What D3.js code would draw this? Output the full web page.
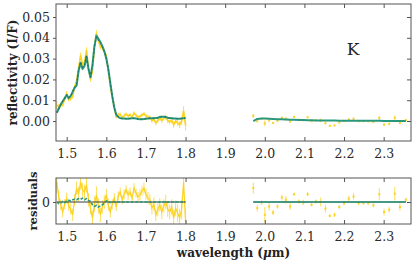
<!DOCTYPE html>
<html>
<head>
<meta charset="utf-8">
<script src="https://cdn.jsdelivr.net/npm/d3@7"></script>
<style>
body { margin: 0; background: #fff; }
svg { display: block; }
</style>
</head>
<body>
<div id="chart"></div>
<script>
// values in units of 1e-3 reflectivity (I/F)

// H band segment
var waveH = [1.475, 1.480, 1.485, 1.490, 1.495, 1.500, 1.505, 1.510, 1.515, 1.520,
    1.525, 1.530, 1.535, 1.540, 1.545, 1.550, 1.555, 1.560, 1.565, 1.570,
    1.575, 1.580, 1.585, 1.590, 1.595, 1.600, 1.605, 1.610, 1.615, 1.620,
    1.625, 1.630, 1.635, 1.640, 1.645, 1.650, 1.655, 1.660, 1.665, 1.670,
    1.675, 1.680, 1.685, 1.690, 1.695, 1.700, 1.705, 1.710, 1.715, 1.720,
    1.725, 1.730, 1.735, 1.740, 1.745, 1.750, 1.755, 1.760, 1.765, 1.770,
    1.775, 1.780, 1.785, 1.790, 1.795, 1.800];
var modelH = [4.0, 6.0, 8.0, 9.5, 11.0, 12.5, 11.0, 12.0, 14.0, 16.0,
    17.0, 24.0, 28.0, 25.0, 26.5, 31.0, 25.0, 21.0, 27.0, 36.0,
    41.0, 39.5, 38.0, 36.0, 33.5, 30.0, 25.0, 18.5, 12.0, 6.5,
    3.0, 2.0, 1.4, 1.2, 1.2, 1.1, 1.1, 1.2, 1.3, 1.3,
    1.2, 1.0, 0.9, 0.9, 1.0, 1.1, 1.2, 1.3, 1.3, 1.3,
    1.4, 1.6, 1.9, 2.1, 2.1, 1.9, 1.6, 1.4, 1.3, 1.2,
    1.2, 1.1, 1.1, 1.2, 1.3, 1.4];
var residH = [3.6, 0.9, -0.5, -1.8, -0.4, 0.7, -0.7, -1.3, -2.3, 0.4,
    2.5, 1.4, 3.6, 2.2, 1.8, 3.1, 0.4, -1.1, -2.9, -0.4,
    1.3, -0.7, -2.3, -0.9, 0.0, 1.3, -0.5, -1.8, -0.4, 0.7,
    -0.9, 1.1, 1.8, 0.4, 1.4, 2.2, 1.3, 1.8, 0.7, 2.5,
    1.6, 0.9, 1.3, 2.0, 2.5, 1.4, 0.7, 0.4, -1.1, -0.4,
    -2.3, -1.4, -0.5, -1.8, -0.7, 0.0, -1.3, -1.8, -0.9, -2.9,
    -1.1, -2.0, -2.9, -1.4, 3.6, -3.6];
var errH = [2.0, 1.2, 1.0, 1.0, 0.9, 1.0, 0.9, 1.0, 1.1, 1.0,
    1.2, 1.3, 1.4, 1.2, 1.3, 1.4, 1.2, 1.1, 1.3, 1.4,
    1.5, 1.4, 1.3, 1.2, 1.2, 1.1, 1.1, 1.0, 0.9, 0.9,
    0.8, 0.8, 0.8, 0.8, 0.9, 0.8, 0.9, 0.8, 0.9, 0.9,
    0.8, 0.9, 1.0, 0.9, 1.0, 1.0, 1.1, 1.0, 1.1, 1.2,
    1.1, 1.2, 1.2, 1.3, 1.2, 1.3, 1.4, 1.3, 1.4, 1.5,
    1.4, 1.6, 1.7, 1.8, 2.2, 2.4];
// second model, as residual against the first
var altResidH = [0.0, -0.3, -0.2, 0.1, -0.1, 0.2, 0.3, 0.2, 0.4, 0.5,
    0.4, 0.6, 0.5, 0.7, 0.4, 0.6, 0.3, 0.1, -0.5, -0.8,
    -0.6, -0.9, -0.7, -0.5, -0.2, 0.2, 0.1, -0.1, 0.1, 0.0,
    0.0, 0.0, 0.0, 0.0, 0.0, 0.0, 0.0, 0.0, 0.0, 0.0,
    0.0, 0.0, 0.0, 0.0, 0.0, 0.0, 0.0, 0.0, 0.0, 0.0,
    0.0, 0.0, 0.0, 0.0, 0.0, 0.0, 0.0, 0.0, 0.0, 0.0,
    0.0, 0.0, 0.0, 0.0, 0.0, 0.0];

// K band segment
var waveK = [1.971, 1.981, 1.992, 2.000, 2.011, 2.021, 2.032, 2.043, 2.053, 2.064,
    2.074, 2.086, 2.097, 2.108, 2.118, 2.129, 2.141, 2.153, 2.164, 2.176,
    2.188, 2.200, 2.212, 2.224, 2.237, 2.249, 2.261, 2.274, 2.289, 2.301,
    2.314, 2.328, 2.341, 2.356];
var modelK = [0.0, 1.0, 1.2, 1.2, 1.1, 1.0, 0.9, 0.8, 0.7, 0.6,
    0.6, 0.5, 0.5, 0.4, 0.4, 0.3, 0.3, 0.2, 0.2, 0.2,
    0.15, 0.15, 0.15, 0.1, 0.1, 0.1, 0.1, 0.1, 0.1, 0.05,
    0.05, 0.05, 0.05, 0.05];
var residK = [2.5, -1.1, -0.1, -2.3, -0.8, -1.9, -0.8, 0.8, 0.4, -0.8,
    1.4, 0.1, -0.1, 1.4, -0.5, 0.1, 0.0, -1.2, -2.5, -2.3,
    -0.9, -0.2, 0.6, 1.0, -0.2, -0.2, -0.2, -0.6, 1.4, -1.8,
    -1.4, 1.5, -0.9, 0.4];
var errK = [1.0, 0.6, 0.4, 1.4, 0.7, 0.5, 0.4, 0.5, 0.7, 0.6,
    0.3, 0.4, 0.5, 0.4, 0.3, 0.4, 0.8, 0.7, 0.3, 0.4,
    0.4, 0.4, 0.5, 0.6, 0.4, 0.3, 0.3, 0.4, 1.1, 0.6,
    0.5, 1.2, 0.7, 0.4];

var xTicks = [1.5, 1.6, 1.7, 1.8, 1.9, 2.0, 2.1, 2.2, 2.3];
var yTicks = [0.00, 0.01, 0.02, 0.03, 0.04, 0.05];
var residTicks = [0];
var bandLabel = "K";

var Chart = {};

Chart.yellow = "#fcd21e";
Chart.green = "#29977b";
Chart.font = "DejaVu Serif";

Chart.segment = function (wave, model, resid, err, alt) {
    return wave.map(function (w, i) {
        var m = model[i] / 1000;
        var r = resid[i] / 1000;
        return {
            w: w,
            model: m,
            resid: r,
            data: m + r,
            err: err[i] / 1000,
            alt: alt ? alt[i] / 1000 : 0
        };
    });
}

Chart.makeChart = function (width, height) {
    var left = 56, right = 411;
    var top = { y0: 4, y1: 141 };
    var bot = { y0: 178, y1: 224 };

    var segs = [
        Chart.segment(waveH, modelH, residH, errH, altResidH),
        Chart.segment(waveK, modelK, residK, errK, null)
    ];

    var x = d3.scaleLinear().domain([1.473, 2.369]).range([left, right]);
    var y = d3.scaleLinear().domain([-0.0096, 0.05625]).range([top.y1, top.y0]);
    var yr = d3.scaleLinear().domain([-0.00396, 0.00432]).range([bot.y1, bot.y0]);

    var svg = d3.create("svg")
        .attr("width", width)
        .attr("height", height)
        .attr("viewBox", [0, 0, width, height])
        .style("font-family", Chart.font);

    var defs = svg.append("defs");
    defs.append("clipPath").attr("id", "clipTop")
        .append("rect").attr("x", left).attr("y", top.y0)
        .attr("width", right - left).attr("height", top.y1 - top.y0);
    defs.append("clipPath").attr("id", "clipBot")
        .append("rect").attr("x", left).attr("y", bot.y0)
        .attr("width", right - left).attr("height", bot.y1 - bot.y0);

    // ---- top panel
    var gTop = svg.append("g").attr("clip-path", "url(#clipTop)");
    var gBot = svg.append("g").attr("clip-path", "url(#clipBot)");

    segs.forEach(function (seg, k) {
        gTop.append("g")
            .attr("stroke", Chart.yellow)
            .attr("stroke-opacity", 0.75)
            .attr("stroke-width", 1)
            .selectAll("line")
            .data(seg)
            .join("line")
            .attr("x1", d => x(d.w)).attr("x2", d => x(d.w))
            .attr("y1", d => y(d.data - d.err))
            .attr("y2", d => y(d.data + d.err));

        if (k === 0) {
            gTop.append("path")
                .datum(seg)
                .attr("fill", "none")
                .attr("stroke", Chart.yellow)
                .attr("stroke-width", 1.6)
                .attr("d", d3.line().x(d => x(d.w)).y(d => y(d.data)));
        } else {
            gTop.append("g")
                .attr("fill", Chart.yellow)
                .selectAll("rect")
                .data(seg)
                .join("rect")
                .attr("x", d => x(d.w) - 1)
                .attr("y", d => y(d.data) - 1)
                .attr("width", 2).attr("height", 2);
        }

        gTop.append("path")
            .datum(seg)
            .attr("fill", "none")
            .attr("stroke", Chart.green)
            .attr("stroke-width", 2)
            .attr("stroke-linejoin", "round")
            .attr("d", d3.line().x(d => x(d.w)).y(d => y(d.model)));

        if (k === 0) {
            gTop.append("path")
                .datum(seg)
                .attr("fill", "none")
                .attr("stroke", "#1d5f5c")
                .attr("stroke-width", 0.9)
                .attr("stroke-dasharray", "1.5,2.5")
                .attr("d", d3.line().x(d => x(d.w)).y(d => y(d.model + d.alt)));
        }

        // ---- residuals
        gBot.append("g")
            .attr("stroke", Chart.yellow)
            .attr("stroke-opacity", 0.75)
            .attr("stroke-width", 1)
            .selectAll("line")
            .data(seg)
            .join("line")
            .attr("x1", d => x(d.w)).attr("x2", d => x(d.w))
            .attr("y1", d => yr(d.resid - d.err))
            .attr("y2", d => yr(d.resid + d.err));

        if (k === 0) {
            gBot.append("path")
                .datum(seg)
                .attr("fill", "none")
                .attr("stroke", Chart.yellow)
                .attr("stroke-width", 1.2)
                .attr("d", d3.line().x(d => x(d.w)).y(d => yr(d.resid)));
        } else {
            gBot.append("g")
                .attr("fill", Chart.yellow)
                .selectAll("rect")
                .data(seg)
                .join("rect")
                .attr("x", d => x(d.w) - 1)
                .attr("y", d => yr(d.resid) - 1)
                .attr("width", 2).attr("height", 2);
        }

        var ext = d3.extent(seg, d => d.w);
        gBot.append("line")
            .attr("x1", x(ext[0])).attr("x2", x(ext[1]))
            .attr("y1", yr(0)).attr("y2", yr(0))
            .attr("stroke", "#3a3a3a")
            .attr("stroke-width", 1.2);

        gBot.append("path")
            .datum(seg)
            .attr("fill", "none")
            .attr("stroke", Chart.green)
            .attr("stroke-width", 1.6)
            .attr("stroke-dasharray", k === 0 ? "3,1.5" : null)
            .attr("d", d3.line().x(d => x(d.w)).y(d => yr(d.alt)));
    });

    // ---- axes
    function style(g) {
        g.select(".domain").remove();
        g.selectAll(".tick line").attr("stroke", "#555");
        g.selectAll(".tick text")
            .attr("fill", "#2a2a2a")
            .style("font-family", Chart.font)
            .style("font-size", "12.5px");
    }

    [top, bot].forEach(function (p, k) {
        var ys = k === 0 ? y : yr;
        svg.append("g")
            .attr("transform", "translate(0," + p.y1 + ")")
            .call(d3.axisBottom(x).tickValues(xTicks).tickSize(-4).tickPadding(8)
                .tickFormat(d3.format(".1f")))
            .call(style);
        svg.append("g")
            .attr("transform", "translate(0," + p.y0 + ")")
            .call(d3.axisTop(x).tickValues(xTicks).tickSize(-4).tickFormat(""))
            .call(style);
        svg.append("g")
            .attr("transform", "translate(" + left + ",0)")
            .call(d3.axisLeft(ys).tickValues(k === 0 ? yTicks : residTicks).tickSize(3).tickPadding(3)
                .tickFormat(k === 0 ? d3.format(".2f") : d3.format("d")))
            .call(style);
        svg.append("g")
            .attr("transform", "translate(" + right + ",0)")
            .call(d3.axisRight(ys).tickValues(k === 0 ? yTicks : residTicks).tickSize(-4).tickFormat(""))
            .call(style);

        svg.append("rect")
            .attr("x", left).attr("y", p.y0)
            .attr("width", right - left).attr("height", p.y1 - p.y0)
            .attr("fill", "none")
            .attr("stroke", "#555")
            .attr("stroke-width", 1);
    });

    // ---- labels
    svg.append("text")
        .attr("transform", "translate(13," + ((top.y0 + top.y1) / 2) + ") rotate(-90)")
        .attr("text-anchor", "middle")
        .attr("dy", "0.35em")
        .attr("fill", "#222")
        .style("font-size", "12px")
        .style("font-weight", "bold")
        .text("reflectivity (I/F)");

    svg.append("text")
        .attr("transform", "translate(33," + ((bot.y0 + bot.y1) / 2) + ") rotate(-90)")
        .attr("text-anchor", "middle")
        .attr("dy", "0.35em")
        .attr("fill", "#222")
        .style("font-size", "11.5px")
        .style("font-weight", "bold")
        .text("residuals");

    var xl = svg.append("text")
        .attr("x", (left + right) / 2)
        .attr("y", 257)
        .attr("text-anchor", "middle")
        .attr("fill", "#222")
        .style("font-size", "12px")
        .style("font-weight", "bold");
    xl.append("tspan").text("wavelength (");
    xl.append("tspan").style("font-style", "italic").text("\u03bc");
    xl.append("tspan").text("m)");

    svg.append("text")
        .attr("x", 353)
        .attr("y", 55)
        .attr("text-anchor", "middle")
        .attr("fill", "#222")
        .style("font-size", "17px")
        .text(bandLabel);

    return svg.node();
}

document.getElementById("chart").append(Chart.makeChart(416, 265));
</script>
</body>
</html>
